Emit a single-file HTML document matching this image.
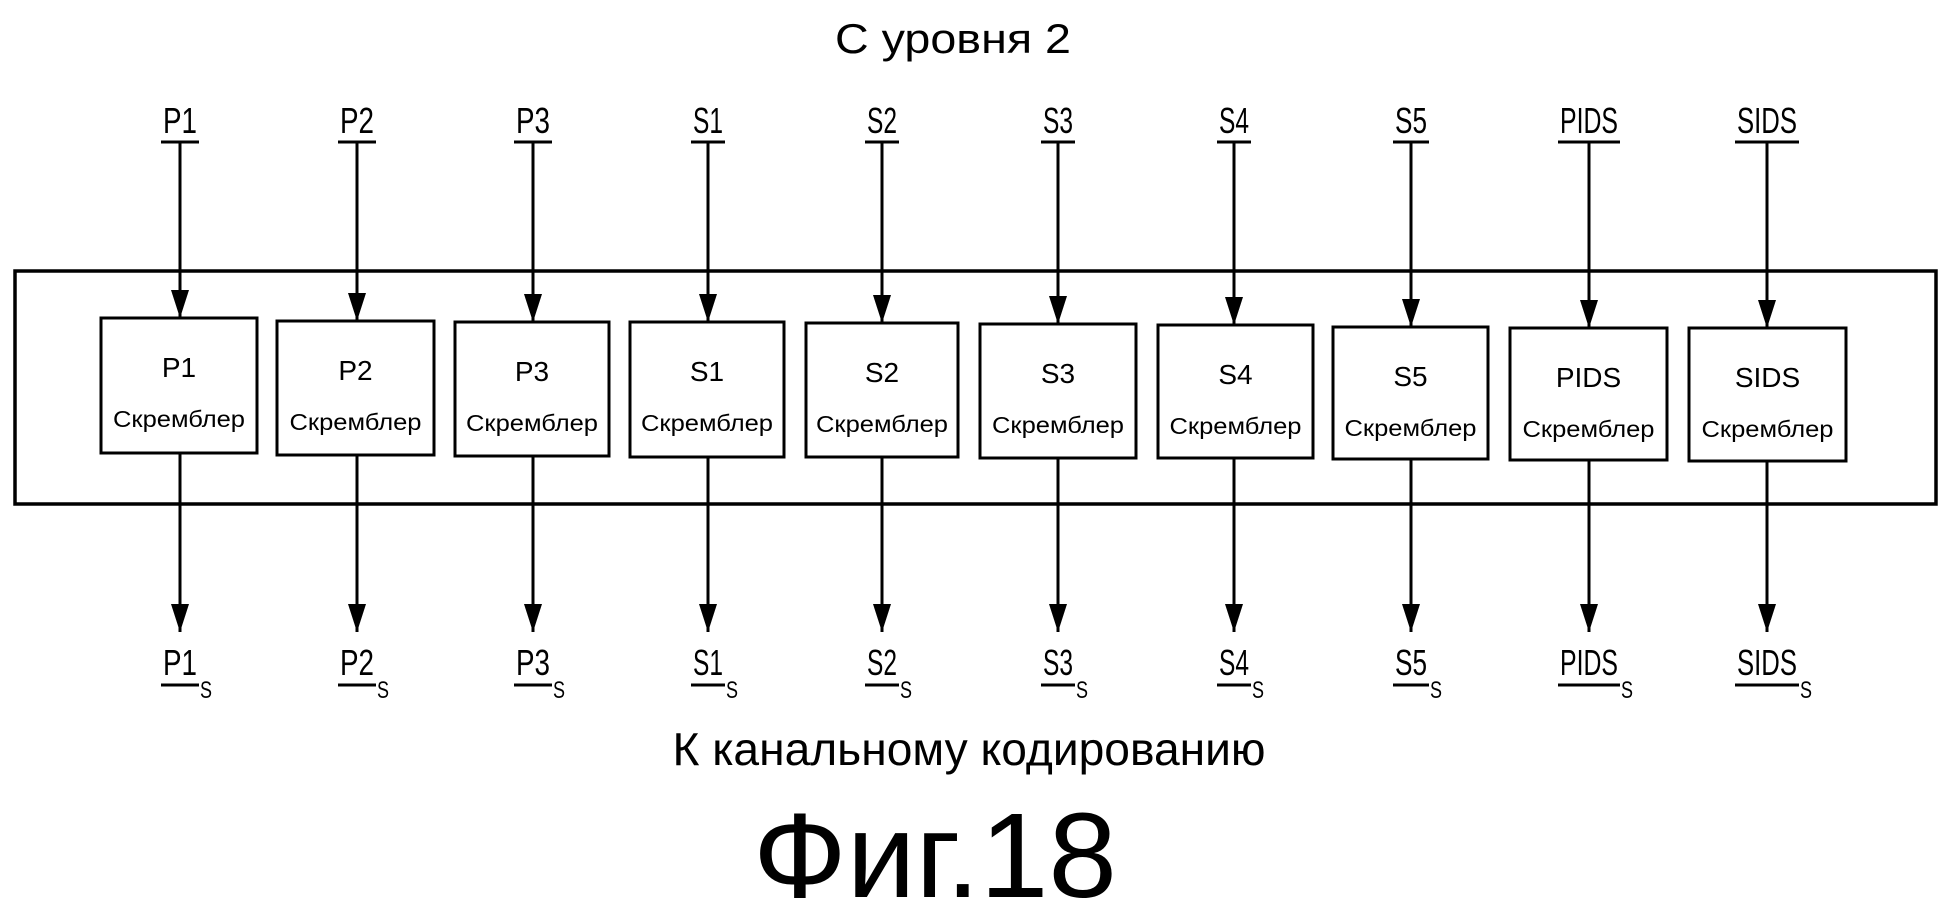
<!DOCTYPE html>
<html><head><meta charset="utf-8"><style>
html,body{margin:0;padding:0;background:#fff;}
svg{display:block;}
text{font-family:"Liberation Sans",sans-serif;fill:#000;}
</style></head><body>
<svg width="1948" height="918" viewBox="0 0 1948 918" xmlns="http://www.w3.org/2000/svg">
<defs>
<marker id="ah" markerWidth="28" markerHeight="18" refX="28" refY="9" orient="auto" markerUnits="userSpaceOnUse" viewBox="0 0 28 18">
<path d="M0,0 L28,9 L0,18 Z" fill="#000"/>
</marker>
</defs>
<text x="953" y="53" font-size="42" text-anchor="middle" textLength="236" lengthAdjust="spacingAndGlyphs">С уровня 2</text>
<rect x="15" y="271" width="1921" height="233" fill="none" stroke="#000" stroke-width="3.5"/>
<g id="cols"></g>
<text x="969" y="765" font-size="46" text-anchor="middle" textLength="593" lengthAdjust="spacingAndGlyphs">К канальному кодированию</text>
<text x="935" y="897" font-size="121" text-anchor="middle" textLength="364" lengthAdjust="spacingAndGlyphs">Фиг.18</text>
</svg>
<script>
var cols=[["P1",180,101,257,318,453,34],["P2",357,277,434,321,455,34],["P3",533,455,609,322,456,34],["S1",708,630,784,322,457,30],["S2",882,806,958,323,457,30],["S3",1058,980,1136,324,458,30],["S4",1234,1158,1313,325,458,30],["S5",1411,1333,1488,327,459,32],["PIDS",1589,1510,1667,328,460,58],["SIDS",1767,1689,1846,328,461,60]];
var ns="http://www.w3.org/2000/svg",g=document.getElementById("cols");
function el(t,a,txt){var e=document.createElementNS(ns,t);for(var k in a)e.setAttribute(k,a[k]);if(txt)e.textContent=txt;g.appendChild(e);return e;}
cols.forEach(function(c){
 var n=c[0],x=c[1],l=c[2],r=c[3],t=c[4],b=c[5],w=c[6],cx=(l+r)/2;
 el("text",{x:x,y:133,"font-size":36,"text-anchor":"middle",textLength:w,lengthAdjust:"spacingAndGlyphs"},n);
 el("line",{x1:x-w/2-2,y1:142,x2:x+w/2+2,y2:142,stroke:"#000","stroke-width":3});
 el("line",{x1:x,y1:142,x2:x,y2:t,stroke:"#000","stroke-width":3,"marker-end":"url(#ah)"});
 el("rect",{x:l,y:t,width:r-l,height:b-t,fill:"#fff",stroke:"#000","stroke-width":3});
 el("text",{x:cx,y:t+59,"font-size":28,"text-anchor":"middle"},n);
 el("text",{x:cx,y:t+109,"font-size":23,"text-anchor":"middle",textLength:132,lengthAdjust:"spacingAndGlyphs"},"Скремблер");
 el("line",{x1:x,y1:b,x2:x,y2:632,stroke:"#000","stroke-width":3,"marker-end":"url(#ah)"});
 var tx=x-w/2-2;
 el("text",{x:tx+2,y:675,"font-size":36,textLength:w,lengthAdjust:"spacingAndGlyphs"},n);
 el("line",{x1:tx,y1:685,x2:tx+w+4,y2:685,stroke:"#000","stroke-width":3});
 el("text",{x:tx+w+5,y:698,"font-size":24,textLength:12,lengthAdjust:"spacingAndGlyphs"},"S");
});
</script>
</body></html>
